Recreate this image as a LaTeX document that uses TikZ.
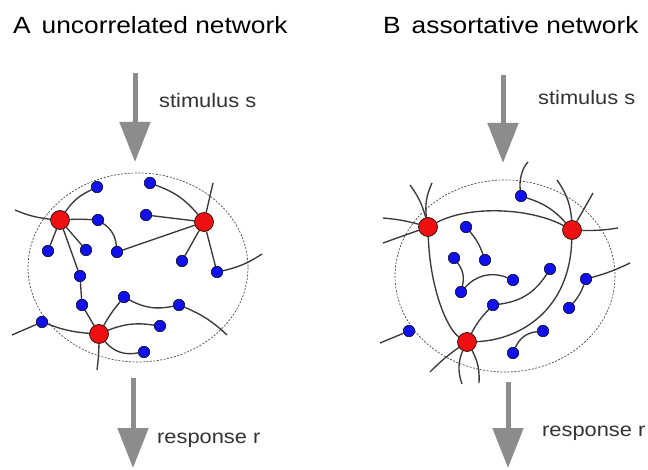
\documentclass[tikz,border=0pt]{standalone}
\usepackage{fontspec}
\newfontfamily\labfont[FakeStretch=1.12]{Liberation Sans}
\usetikzlibrary{arrows.meta}
\definecolor{redc}{HTML}{EE1010}
\definecolor{bluec}{HTML}{1010EE}
\definecolor{edgec}{HTML}{3A3A3A}
\definecolor{arrowc}{HTML}{8C8C8C}
\pgfdeclarelayer{back}
\pgfdeclarelayer{bg}
\pgfsetlayers{back,bg,main}
\tikzset{
  hub/.style={circle, draw=black, fill=redc, minimum size=19pt, inner sep=0pt, line width=0.6pt},
  leaf/.style={circle, draw=black, fill=bluec, minimum size=11.5pt, inner sep=0pt, line width=0.5pt},
  link/.style={draw=edgec, line width=1.35pt},
  bound/.style={draw=black!70, line width=0.7pt, dash pattern=on 2pt off 1.5pt},
  flow/.style={draw=arrowc, line width=5pt, -{Triangle[width=30pt,length=40pt]}},
  ttl/.style={font=\labfont\fontsize{23.5}{28}\selectfont, anchor=base west, inner sep=0pt},
  lbl/.style={font=\labfont\fontsize{19.5}{23}\selectfont, text=black!80, anchor=base west, inner sep=0pt},
}
\begin{document}
\begin{tikzpicture}[x=1pt,y=-1pt]
\useasboundingbox (0,0) rectangle (648,470);
\begin{pgfonlayer}{back}
\fill[white] (0,0) rectangle (648,470);
\end{pgfonlayer}

% titles and labels
\node[ttl] (tA) at (13,34) {A\hspace{11pt}uncorrelated network};
\node[ttl] (tB) at (383,34) {B\hspace{11pt}assortative network};
\node[lbl] (sA) at (159,108) {stimulus s};
\node[lbl] (rA) at (157,443) {response r};
\node[lbl] (sB) at (538,105) {stimulus s};
\node[lbl] (rB) at (542,436) {response r};

% arrows
\coordinate (sA1) at (135,73);  \coordinate (sA2) at (135,162);
\coordinate (rA1) at (133,378); \coordinate (rA2) at (133,468);
\coordinate (sB1) at (503,75);  \coordinate (sB2) at (503,163);
\coordinate (rB1) at (508,382); \coordinate (rB2) at (508,468);
\draw[flow] (sA1) -- (sA2);
\draw[flow] (rA1) -- (rA2);
\draw[flow] (sB1) -- (sB2);
\draw[flow] (rB1) -- (rB2);

% ---------------- Panel A ----------------
\node[hub] (RA1) at (60,220) {};
\node[hub] (RA2) at (204,222) {};
\node[hub] (RA3) at (99,334) {};
\node[leaf] (a1) at (97,187) {};
\node[leaf] (a2) at (150,183) {};
\node[leaf] (a3) at (98,220) {};
\node[leaf] (a4) at (146,215) {};
\node[leaf] (a5) at (48,251) {};
\node[leaf] (a6) at (86,250) {};
\node[leaf] (a7) at (117,252) {};
\node[leaf] (a8) at (182,261) {};
\node[leaf] (a9) at (217,272) {};
\node[leaf] (a10) at (80,276) {};
\node[leaf] (a11) at (124,297) {};
\node[leaf] (a12) at (179,305) {};
\node[leaf] (a13) at (82,305) {};
\node[leaf] (a14) at (42,322) {};
\node[leaf] (a15) at (160,326) {};
\node[leaf] (a16) at (144,352) {};
\coordinate (fA1) at (15,210);
\coordinate (fA2) at (213,183);
\coordinate (fA3) at (262,254);
\coordinate (fA4) at (227,335);
\coordinate (fA5) at (97,370);
\coordinate (fA6) at (12,335);
\coordinate (eA) at (138,267.5);

\begin{pgfonlayer}{bg}
\draw[bound] (eA) ellipse [x radius=110, y radius=94.5];
\draw[link] (RA1) to[bend left=15] (a1);
\draw[link] (RA1) to[bend left=3] (a3);
\draw[link] (RA1) -- (a5);
\draw[link] (RA1) -- (a6);
\draw[link] (RA1) -- (a10);
\draw[link] (fA1) to[bend right=8] (RA1);
\draw[link] (a3) to[bend left=25] (a7);
\draw[link] (a7) -- (RA2);
\draw[link] (a2) to[bend left=15] (RA2);
\draw[link] (a4) -- (RA2);
\draw[link] (RA2) -- (a8);
\draw[link] (RA2) -- (a9);
\draw[link] (RA2) -- (fA2);
\draw[link] (a9) to[bend right=10] (fA3);
\draw[link] (a10) -- (a13);
\draw[link] (a13) -- (RA3);
\draw[link] (RA3) to[bend left=5] (a11);
\draw[link] (a11) to[bend right=20] (a12);
\draw[link] (a12) to[bend left=10] (fA4);
\draw[link] (RA3) to[bend left=15] (a15);
\draw[link] (RA3) to[bend right=30] (a16);
\draw[link] (RA3) to[bend left=3] (fA5);
\draw[link] (a14) to[bend right=8] (RA3);
\draw[link] (a14) -- (fA6);
\end{pgfonlayer}

% ---------------- Panel B ----------------
\node[hub] (RB1) at (428,227) {};
\node[hub] (RB2) at (572,230) {};
\node[hub] (RB3) at (467,342) {};
\node[leaf] (c1) at (521,196) {};
\node[leaf] (c2) at (466,227) {};
\node[leaf] (c3) at (454,258) {};
\node[leaf] (c4) at (485,260) {};
\node[leaf] (c5) at (550,269) {};
\node[leaf] (c6) at (513,280) {};
\node[leaf] (c7) at (586,279) {};
\node[leaf] (c8) at (461,292) {};
\node[leaf] (c9) at (493,305) {};
\node[leaf] (c10) at (569,308) {};
\node[leaf] (c11) at (543,331) {};
\node[leaf] (c12) at (409,331) {};
\node[leaf] (c13) at (513,353) {};
\coordinate (fB1) at (528,162);
\coordinate (fB2) at (630,263);
\coordinate (fB3) at (380,343);
\coordinate (fB4) at (383,218);
\coordinate (fB5) at (383,243);
\coordinate (fB6) at (410,185);
\coordinate (fB7) at (432,183);
\coordinate (fB8) at (557,180);
\coordinate (fB9) at (593,193);
\coordinate (fB10) at (618,228);
\coordinate (fB11) at (430,372);
\coordinate (fB12) at (462,384);
\coordinate (fB13) at (479,383);
\coordinate (eB) at (505,276);

\begin{pgfonlayer}{bg}
\draw[bound] (eB) ellipse [x radius=110, y radius=96];
\draw[link] (RB1) .. controls (470,205) and (530,208) .. (RB2);
\draw[link] (RB1) .. controls (430,290) and (448,330) .. (RB3);
\draw[link] (RB2) .. controls (570,310) and (520,340) .. (RB3);
\draw[link] (c1) to[bend left=15] (RB2);
\draw[link] (c1) .. controls (519,180) and (522,168) .. (fB1);
\draw[link] (c2) to[bend left=10] (c4);
\draw[link] (c3) to[bend left=25] (c8);
\draw[link] (c8) to[bend left=35] (c6);
\draw[link] (c9) to[bend right=25] (c5);
\draw[link] (c9) to[bend right=8] (RB3);
\draw[link] (c7) to[bend left=10] (c10);
\draw[link] (c7) to[bend right=5] (fB2);
\draw[link] (c11) to[bend right=30] (c13);
\draw[link] (c12) -- (fB3);
\draw[link] (fB4) to[bend left=5] (RB1);
\draw[link] (fB5) -- (RB1);
\draw[link] (fB6) to[bend left=10] (RB1);
\draw[link] (fB7) to[bend right=15] (RB1);
\draw[link] (fB8) to[bend left=15] (RB2);
\draw[link] (fB9) -- (RB2);
\draw[link] (fB10) to[bend left=5] (RB2);
\draw[link] (RB3) to[bend right=5] (fB11);
\draw[link] (RB3) to[bend right=20] (fB12);
\draw[link] (RB3) to[bend left=15] (fB13);
\end{pgfonlayer}
\end{tikzpicture}
\end{document}
